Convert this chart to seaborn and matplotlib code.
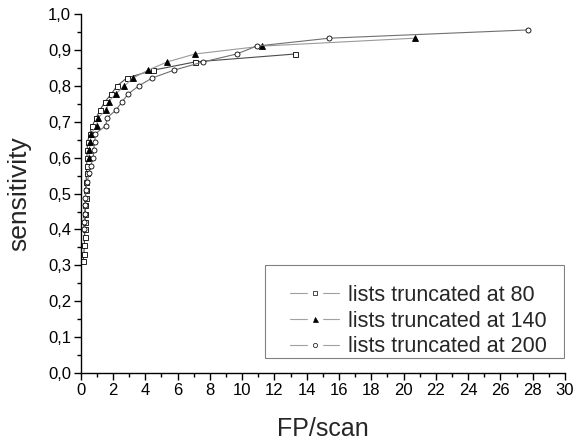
import matplotlib
matplotlib.use("Agg")
import matplotlib.pyplot as plt
import seaborn as sns
from matplotlib.lines import Line2D
from matplotlib.patches import Rectangle
from matplotlib.legend_handler import HandlerTuple
from matplotlib.ticker import MultipleLocator, FixedLocator, FixedFormatter

# ---- data ----
fp_80 = [0.15, 0.20, 0.22, 0.24, 0.25, 0.27, 0.28, 0.29, 0.30, 0.31, 0.33, 0.36, 0.37,
         0.38, 0.40, 0.42, 0.55, 0.72, 0.95, 1.20, 1.50, 1.90, 2.25, 2.85, 4.50, 7.10, 13.30]
sens_80 = [0.311, 0.333, 0.356, 0.378, 0.400, 0.422, 0.444, 0.467, 0.489, 0.511, 0.533,
           0.556, 0.578, 0.600, 0.622, 0.644, 0.667, 0.689, 0.711, 0.733, 0.756, 0.778,
           0.800, 0.822, 0.844, 0.867, 0.889]

fp_140 = [0.51, 0.53, 0.60, 0.64, 0.99, 1.05, 1.59, 1.73, 2.17, 2.70, 3.24, 4.17,
          5.37, 7.08, 11.25, 20.70]
sens_140 = [0.600, 0.622, 0.644, 0.667, 0.689, 0.711, 0.733, 0.756, 0.778, 0.800,
            0.822, 0.844, 0.867, 0.889, 0.911, 0.933]

fp_200 = [0.18, 0.22, 0.24, 0.26, 0.28, 0.31, 0.41, 0.51, 0.62, 0.78, 0.80, 0.87, 0.91,
          1.55, 1.63, 2.19, 2.56, 2.95, 3.59, 4.42, 5.78, 7.60, 9.66, 10.90, 15.40, 27.70]
sens_200 = [0.400, 0.422, 0.444, 0.467, 0.489, 0.511, 0.533, 0.556, 0.578, 0.600, 0.622,
            0.644, 0.667, 0.689, 0.711, 0.733, 0.756, 0.778, 0.800, 0.822, 0.844, 0.867,
            0.889, 0.911, 0.933, 0.956]

labels = ["lists truncated at 80", "lists truncated at 140", "lists truncated at 200"]
x_ticks = [0, 2, 4, 6, 8, 10, 12, 14, 16, 18, 20, 22, 24, 26, 28, 30]
y_ticks = [0.0, 0.1, 0.2, 0.3, 0.4, 0.5, 0.6, 0.7, 0.8, 0.9, 1.0]
y_tick_labels = ["0,0", "0,1", "0,2", "0,3", "0,4", "0,5", "0,6", "0,7", "0,8", "0,9", "1,0"]
x_label = "FP/scan"
y_label = "sensitivity"

# ---- style ----
sns.set_style("white")
plt.rcParams["font.family"] = ["Liberation Sans", "DejaVu Sans"]

fig = plt.figure(figsize=(5.75, 4.42), dpi=100)
ax = fig.add_axes([0.1404, 0.156, 0.8422, 0.812])

line_cols = ["#4a4a4a", "#9a9a9a", "#707070"]
markers = ["s", "^", "o"]
msizes = [3.6, 4.8, 3.6]
faces = ["white", "black", "white"]

series = [(fp_80, sens_80), (fp_140, sens_140), (fp_200, sens_200)]
for (xs, ys), c, m, ms, fc in zip(series, line_cols, markers, msizes, faces):
    sns.lineplot(x=xs, y=ys, sort=False, estimator=None, ax=ax, color=c,
                 linewidth=0.8, marker=m, markersize=ms, markerfacecolor=fc,
                 markeredgecolor="black", markeredgewidth=0.6)

ax.set_xlim(0, 30)
ax.set_ylim(0, 1.0)
ax.xaxis.set_major_locator(FixedLocator(x_ticks))
ax.xaxis.set_minor_locator(MultipleLocator(1))
ax.yaxis.set_major_locator(FixedLocator(y_ticks))
ax.yaxis.set_major_formatter(FixedFormatter(y_tick_labels))
ax.yaxis.set_minor_locator(MultipleLocator(0.05))

for s in ["top", "right"]:
    ax.spines[s].set_visible(False)
for s in ["left", "bottom"]:
    ax.spines[s].set_color("black")
    ax.spines[s].set_linewidth(1.0)

ax.tick_params(which="major", direction="out", length=5, width=1, colors="black",
               labelsize=12, left=True, bottom=True, pad=2)
ax.tick_params(which="minor", direction="out", length=3, width=1, colors="black",
               left=True, bottom=True)

ax.set_xlabel(x_label, fontsize=18, labelpad=14)
ax.set_ylabel(y_label, fontsize=19, labelpad=12)

# legend frame drawn as a plain rectangle
frame = Rectangle((0.3805, 0.042), 0.6175, 0.259, transform=ax.transAxes,
                  facecolor="white", edgecolor="#808080", linewidth=0.8, zorder=4)
ax.add_patch(frame)

# legend handles: thin gray line with a gap around a small marker
handles = []
for m, fc in zip(markers, faces):
    ln = Line2D([], [], color="#a0a0a0", linewidth=0.8)
    gap = Line2D([], [], linestyle="none", marker="s", markersize=10,
                 markerfacecolor="white", markeredgecolor="white")
    mk = Line2D([], [], linestyle="none", marker=m, markersize=3.0 if m != "^" else 3.6,
                markerfacecolor=fc, markeredgecolor="black", markeredgewidth=0.5)
    handles.append((ln, gap, mk))

leg = ax.legend(handles, labels, handler_map={tuple: HandlerTuple(ndivide=1, pad=0)},
                loc="center right", bbox_to_anchor=(0.976, 0.145),
                fontsize=15.5, frameon=False, handlelength=2.3,
                handletextpad=0.4, labelspacing=0.22, borderpad=0.3,
                borderaxespad=0)
leg.set_zorder(5)

fig.savefig("out.png", dpi=100)
